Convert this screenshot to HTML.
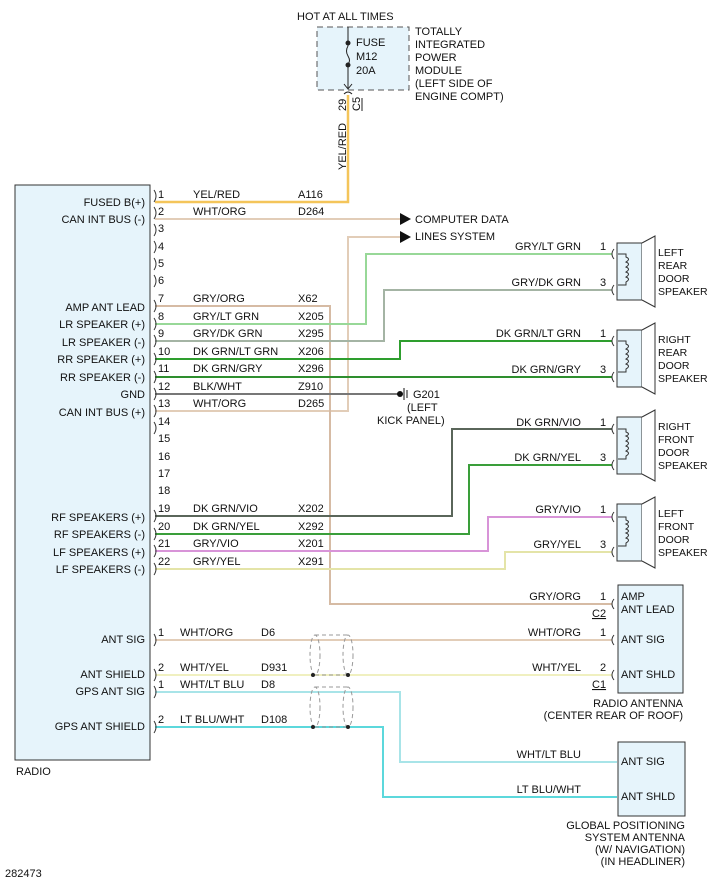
<!DOCTYPE html>
<html><head><style>body{margin:0;background:#fff}svg{display:block}text{font-family:"Liberation Sans",sans-serif;font-size:11px;fill:#111}.sp text{font-size:10.5px}</style></head><body>
<svg width="712" height="880" viewBox="0 0 712 880">
<rect x="15" y="185" width="135" height="575" fill="#e6f4fb" stroke="#333"/>
<rect x="317" y="27" width="92" height="63" fill="#e6f4fb" stroke="#555" stroke-dasharray="6,4"/>
<text x="297" y="20">HOT AT ALL TIMES</text>
<line x1="348" y1="27" x2="348" y2="46" stroke="#222"/><circle cx="348" cy="43" r="2.5" fill="#222"/>
<path d="M348,46 q-3,5 0,10 q3,5 0,8" fill="none" stroke="#222"/><circle cx="348" cy="65" r="2.5" fill="#222"/>
<line x1="348" y1="65" x2="348" y2="88" stroke="#222"/><path d="M344,84 l4,5 l4,-5" fill="none" stroke="#222"/>
<path d="M344,94 q4,-4 8,0" fill="none" stroke="#222"/>
<text x="356" y="46">FUSE</text><text x="356" y="60">M12</text><text x="356" y="74">20A</text>
<g><text x="415" y="35">TOTALLY</text><text x="415" y="48">INTEGRATED</text><text x="415" y="61">POWER</text><text x="415" y="74">MODULE</text><text x="415" y="87">(LEFT SIDE OF</text><text x="415" y="100">ENGINE COMPT)</text></g>
<text transform="translate(346,111) rotate(-90)">29</text><text transform="translate(360,111) rotate(-90)">C5</text><line x1="362" y1="98" x2="362" y2="111" stroke="#222"/>
<text transform="translate(346,170) rotate(-90)">YEL/RED</text>
<g fill="none" stroke-width="2">
<path d="M155,202 H348 V95" stroke="#f4c55a" stroke-width="2.5"/>
<path d="M155,219 H400" stroke="#e2cdb8"/>
<path d="M155,411 H348 V237 H400" stroke="#e2cdb8"/>
<path d="M155,306 H330 V604 H612" stroke="#d6bba4"/>
<path d="M155,324 H366 V254 H612" stroke="#98d898"/>
<path d="M155,341 H384 V290 H612" stroke="#a4b4a4"/>
<path d="M155,359 H400 V341 H612" stroke="#2e9e2e"/>
<path d="M155,377 H612" stroke="#2e8e2e"/>
<path d="M155,394 H398" stroke="#777"/>
<path d="M155,516 H452 V429 H612" stroke="#5a665a"/>
<path d="M155,534 H469 V465 H612" stroke="#3a9e3a"/>
<path d="M155,551 H488 V517 H612" stroke="#d894d8"/>
<path d="M155,569 H505 V552 H612" stroke="#e4e4a8"/>
<path d="M155,640 H612" stroke="#e2cdb8"/>
<path d="M155,675 H612" stroke="#f0f0c0"/>
<path d="M155,692 H400 V762 H617" stroke="#a8e4e8"/>
<path d="M155,727 H383 V797 H617" stroke="#5cd8dc"/>
</g>
<polygon points="400,213 411,219 400,225" fill="#111"/><polygon points="400,231 411,237 400,243" fill="#111"/>
<text x="415" y="223">COMPUTER DATA</text><text x="415" y="240">LINES SYSTEM</text>
<circle cx="400" cy="394" r="3" fill="#111"/><line x1="404" y1="388" x2="404" y2="400" stroke="#111"/><line x1="407" y1="390" x2="407" y2="398" stroke="#111"/>
<text x="413" y="398">G201</text><text x="407" y="411">(LEFT</text><text x="377" y="424">KICK PANEL)</text>
<g text-anchor="end">
<text x="145" y="206">FUSED B(+)</text><text x="145" y="223">CAN INT BUS (-)</text>
<text x="145" y="311">AMP ANT LEAD</text><text x="145" y="328">LR SPEAKER (+)</text><text x="145" y="346">LR SPEAKER (-)</text>
<text x="145" y="363">RR SPEAKER (+)</text><text x="145" y="381">RR SPEAKER (-)</text><text x="145" y="398">GND</text><text x="145" y="416">CAN INT BUS (+)</text>
<text x="145" y="521">RF SPEAKERS (+)</text><text x="145" y="538">RF SPEAKERS (-)</text><text x="145" y="556">LF SPEAKERS (+)</text><text x="145" y="573">LF SPEAKERS (-)</text>
<text x="145" y="643">ANT SIG</text><text x="145" y="678">ANT SHIELD</text><text x="145" y="695">GPS ANT SIG</text><text x="145" y="730">GPS ANT SHIELD</text>
</g>
<g>
<text x="158" y="198">1</text><text x="158" y="215">2</text><text x="158" y="232">3</text><text x="158" y="250">4</text><text x="158" y="267">5</text><text x="158" y="284">6</text><text x="158" y="302">7</text><text x="158" y="320">8</text><text x="158" y="337">9</text><text x="158" y="355">10</text><text x="158" y="372">11</text><text x="158" y="390">12</text><text x="158" y="407">13</text><text x="158" y="425">14</text><text x="158" y="442">15</text><text x="158" y="460">16</text><text x="158" y="477">17</text><text x="158" y="494">18</text><text x="158" y="512">19</text><text x="158" y="530">20</text><text x="158" y="547">21</text><text x="158" y="565">22</text>
<text x="158" y="636">1</text><text x="158" y="671">2</text><text x="158" y="688">1</text><text x="158" y="723">2</text>
</g>
<g fill="none" stroke="#333">
<path d="M154,190 q4,6 0,12 M154,207 q4,6 0,12 M154,224 q4,6 0,12 M154,241 q4,6 0,12 M154,258 q4,6 0,12 M154,275 q4,6 0,12 M154,300 q4,6 0,12 M154,318 q4,6 0,12 M154,335 q4,6 0,12 M154,353 q4,6 0,12 M154,371 q4,6 0,12 M154,388 q4,6 0,12 M154,405 q4,6 0,12 M154,422 q4,6 0,12 M154,510 q4,6 0,12 M154,528 q4,6 0,12 M154,545 q4,6 0,12 M154,563 q4,6 0,12 M154,634 q4,6 0,12 M154,669 q4,6 0,12 M154,686 q4,6 0,12 M154,721 q4,6 0,12"/>
</g>
<g>
<text x="193" y="198">YEL/RED</text><text x="298" y="198">A116</text>
<text x="193" y="215">WHT/ORG</text><text x="298" y="215">D264</text>
<text x="193" y="302">GRY/ORG</text><text x="298" y="302">X62</text>
<text x="193" y="320">GRY/LT GRN</text><text x="298" y="320">X205</text>
<text x="193" y="337">GRY/DK GRN</text><text x="298" y="337">X295</text>
<text x="193" y="355">DK GRN/LT GRN</text><text x="298" y="355">X206</text>
<text x="193" y="372">DK GRN/GRY</text><text x="298" y="372">X296</text>
<text x="193" y="390">BLK/WHT</text><text x="298" y="390">Z910</text>
<text x="193" y="407">WHT/ORG</text><text x="298" y="407">D265</text>
<text x="193" y="512">DK GRN/VIO</text><text x="298" y="512">X202</text>
<text x="193" y="530">DK GRN/YEL</text><text x="298" y="530">X292</text>
<text x="193" y="547">GRY/VIO</text><text x="298" y="547">X201</text>
<text x="193" y="565">GRY/YEL</text><text x="298" y="565">X291</text>
<text x="180" y="636">WHT/ORG</text><text x="261" y="636">D6</text>
<text x="180" y="671">WHT/YEL</text><text x="261" y="671">D931</text>
<text x="180" y="688">WHT/LT BLU</text><text x="261" y="688">D8</text>
<text x="180" y="723">LT BLU/WHT</text><text x="261" y="723">D108</text>
</g>
<g text-anchor="end">
<text x="581" y="250">GRY/LT GRN</text><text x="581" y="286">GRY/DK GRN</text>
<text x="581" y="337">DK GRN/LT GRN</text><text x="581" y="373">DK GRN/GRY</text>
<text x="581" y="426">DK GRN/VIO</text><text x="581" y="461">DK GRN/YEL</text>
<text x="581" y="513">GRY/VIO</text><text x="581" y="548">GRY/YEL</text>
<text x="581" y="600">GRY/ORG</text><text x="581" y="636">WHT/ORG</text><text x="581" y="671">WHT/YEL</text>
<text x="581" y="758">WHT/LT BLU</text><text x="581" y="793">LT BLU/WHT</text>
</g>
<g fill="#e6f4fb" stroke="#333">
<rect x="617" y="243" width="25" height="57"/><path d="M642,243 L655,236 L655,307 L642,300" fill="#fff"/>
<rect x="617" y="330" width="25" height="57"/><path d="M642,330 L655,323 L655,394 L642,387" fill="#fff"/>
<rect x="617" y="417" width="25" height="57"/><path d="M642,417 L655,410 L655,481 L642,474" fill="#fff"/>
<rect x="617" y="504" width="25" height="57"/><path d="M642,504 L655,497 L655,568 L642,561" fill="#fff"/>
<rect x="618" y="585" width="65" height="108"/><rect x="618" y="742" width="67" height="74"/>
</g>
<g fill="none" stroke="#333">
<path d="M618,254 h8 v3 q5,2 0,5 q5,2 0,5 q5,2 0,5 q5,2 0,5 q5,2 0,5 v3 h-8"/>
<path d="M618,341 h8 v3 q5,2 0,5 q5,2 0,5 q5,2 0,5 q5,2 0,5 q5,2 0,5 v3 h-8"/>
<path d="M618,429 h8 v3 q5,2 0,4 q5,2 0,5 q5,2 0,5 q5,2 0,5 q5,2 0,5 v3 h-8"/>
<path d="M618,517 h8 v3 q5,2 0,4 q5,2 0,5 q5,2 0,4 q5,2 0,5 q5,2 0,5 v3 h-8"/>
<path d="M614,249 q-4,5 0,10 M614,285 q-4,5 0,10 M614,336 q-4,5 0,10 M614,372 q-4,5 0,10 M614,424 q-4,5 0,10 M614,460 q-4,5 0,10 M614,512 q-4,5 0,10 M614,547 q-4,5 0,10 M614,599 q-4,5 0,10 M614,635 q-4,5 0,10 M614,670 q-4,5 0,10"/>
</g>
<g><text x="600" y="250">1</text><text x="600" y="286">3</text><text x="600" y="337">1</text><text x="600" y="373">3</text><text x="600" y="426">1</text><text x="600" y="461">3</text><text x="600" y="513">1</text><text x="600" y="548">3</text><text x="600" y="600">1</text><text x="600" y="636">1</text><text x="600" y="671">2</text>
<text x="592" y="617" text-decoration="underline">C2</text><text x="592" y="688" text-decoration="underline">C1</text></g>
<g class="sp">
<text x="658" y="256">LEFT</text><text x="658" y="269">REAR</text><text x="658" y="282">DOOR</text><text x="658" y="295">SPEAKER</text>
<text x="658" y="343">RIGHT</text><text x="658" y="356">REAR</text><text x="658" y="369">DOOR</text><text x="658" y="382">SPEAKER</text>
<text x="658" y="430">RIGHT</text><text x="658" y="443">FRONT</text><text x="658" y="456">DOOR</text><text x="658" y="469">SPEAKER</text>
<text x="658" y="517">LEFT</text><text x="658" y="530">FRONT</text><text x="658" y="543">DOOR</text><text x="658" y="556">SPEAKER</text>
</g>
<g>
<text x="621" y="600">AMP</text><text x="621" y="613">ANT LEAD</text><text x="621" y="643">ANT SIG</text><text x="621" y="678">ANT SHLD</text>
<text x="621" y="765">ANT SIG</text><text x="621" y="800">ANT SHLD</text>
</g>
<g text-anchor="end"><text x="683" y="707">RADIO ANTENNA</text><text x="683" y="719">(CENTER REAR OF ROOF)</text>
<text x="685" y="829">GLOBAL POSITIONING</text><text x="685" y="841">SYSTEM ANTENNA</text><text x="685" y="853">(W/ NAVIGATION)</text><text x="685" y="865">(IN HEADLINER)</text></g>
<g fill="none" stroke="#999" stroke-dasharray="4,3">
<ellipse cx="315" cy="655" rx="5" ry="20"/><ellipse cx="348" cy="655" rx="5" ry="20"/><path d="M315,635 H348 M315,675 H348"/>
<ellipse cx="315" cy="707" rx="5" ry="20"/><ellipse cx="348" cy="707" rx="5" ry="20"/><path d="M315,687 H348 M315,727 H348"/>
</g>
<circle cx="313" cy="675" r="2" fill="#222"/><circle cx="348" cy="675" r="2" fill="#222"/><circle cx="313" cy="727" r="2" fill="#222"/><circle cx="348" cy="727" r="2" fill="#222"/>
<text x="16" y="775">RADIO</text><text x="5" y="877">282473</text>
</svg></body></html>
